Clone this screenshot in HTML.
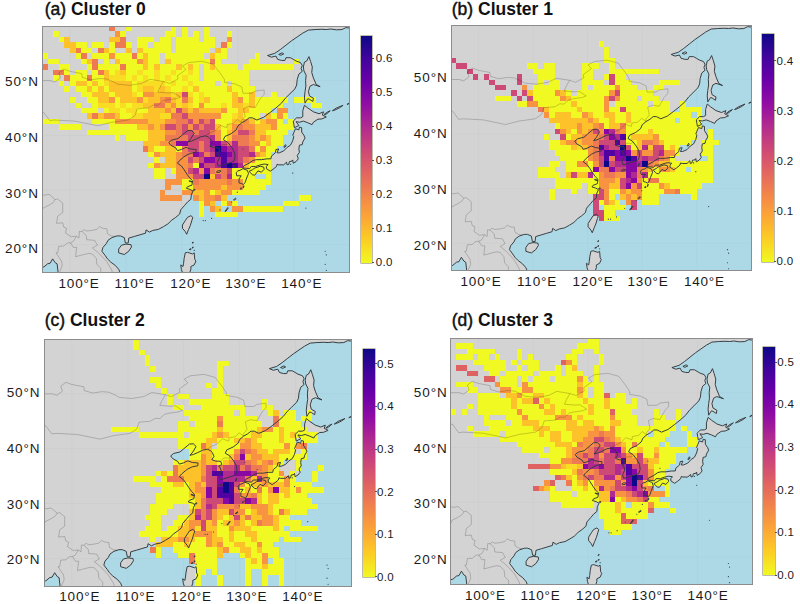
<!DOCTYPE html><html><head><meta charset="utf-8"><title>Clusters</title><style>
html,body{margin:0;padding:0;background:#fff}
body{width:800px;height:604px;position:relative;overflow:hidden;font-family:"Liberation Sans",sans-serif;color:#1a1a1a}
.map{position:absolute;overflow:hidden;background:#d3d3d3;box-sizing:border-box}
.map svg{position:absolute;left:0;top:0;display:block;filter:blur(0.4px)}
.frame{position:absolute;box-sizing:border-box;border:1px solid #8c8c8c;pointer-events:none}
.cb{position:absolute;box-shadow:0 0 0 0.6px rgba(60,50,0,0.55);background:linear-gradient(to top,#f0f921 0%,#fcce25 10%,#fca636 20%,#f2844b 30%,#e16462 40%,#cc4778 50%,#b12a90 60%,#8f0da4 70%,#6a00a8 80%,#41049d 90%,#0d0887 100%)}
.t{position:absolute;white-space:nowrap;line-height:1}
.ttl{font-size:17.5px;font-weight:bold;color:#111}
.ttl span{font-weight:normal;-webkit-text-stroke:0.45px #111}
.lon{font-size:13.5px;letter-spacing:0.8px;transform:translateX(-50%);margin-left:0.4px}
.lat{font-size:13.5px;letter-spacing:0.9px;text-align:right}
.cbl{font-size:11.5px;letter-spacing:0.3px}
.tick{position:absolute;height:1px;width:2px;background:#555}
</style></head><body>
<svg width="0" height="0" style="position:absolute"><defs><g id="sea"><path d="M55.20 0.40L54.30 0.30L53.60 0.65L52.60 0.70L51.60 0.55L50.80 0.65L50 0.60L48.80 0.65L47.60 0.75L46.60 1.30L45.60 2L44.60 2.70L43.60 3.50L42.60 4.30L41.60 5L40.30 5.40L41 5.70L41.80 5.50L42.10 6.10L42.80 6.30L43.40 6.30L43.60 5.80L44.40 5.80L44.90 6.10L45.40 6.40L46.20 6.70L46.50 7.20L46.30 7.80L46.50 8.30L45.90 8.80L45.60 9.80L45.50 10.80L45.20 11.50L44.30 12.40L43.50 13.20L42.80 14.10L41.80 15L40.80 15.80L39.60 16.70L38.40 17.20L37.60 16.80L37 16.80L36.40 17.30L35.70 17.70L35 18.30L34.70 19L33.80 19.70L32.70 20.20L32.40 20.80L33.20 21.30L33.90 22.20L34.40 23.10L34.50 24L34.30 24.70L33.70 25L33 25.20L32.40 25.40L31.50 25.65L31.30 25L31.70 24.10L31.50 23.40L31.20 23.20L31.80 22.90L31.60 22.30L30.70 22.25L30 22L30.40 21.40L30.10 20.70L29.70 20.30L29.20 20.10L28.40 20.25L27.50 20.70L26.70 21.05L26.10 21.20L26.60 20.60L27.20 19.60L26.70 19.10L26 19.15L25 20L24.30 20.60L23.20 20.85L22.65 21.30L23 21.80L23.90 22.30L24.20 22.80L24.90 22.60L25.70 22.20L26.50 22.50L27.55 22.60L27.50 23.10L26.50 23.30L25.70 23.70L25.30 24L24.60 24.60L24.20 25.10L24.90 25.60L25.40 26.30L25.90 27.10L26.40 27.80L26.90 28.30L26.80 29.10L26 29.40L25.80 29.70L26.50 29.90L27 30.20L26.70 30.80L26.60 31.70L26 32.20L25.50 32.80L24.80 33.60L24.60 34.40L23.90 35L23.20 35.50L22.50 36.20L21.70 36.70L20.80 37.20L19.80 37.40L19.20 37.70L18.60 37.30L18.50 37.90L17.50 38.20L16.50 38.50L15.50 38.80L15.40 39.70L14.90 39.70L14.70 38.70L14 38.40L13.40 38.40L12.50 38.70L11.80 39.20L11.50 39.80L10.90 40.50L10.70 41.20L11.30 42L11.70 42.60L12.30 43.20L13.10 43.80L13.70 44.50L13.95 45.10L55.5 45.5L55.5 -0.5Z" fill="#add8e6"/><path d="M-0.10 44.18L0.34 44.07L1 43.50L1.46 43.40L1.90 42.60L2.36 43.30L2.70 43.50L2.88 45.10L-0.10 45.10Z" fill="#add8e6"/><path d="M13.70 40.80L14.20 40.10L15 39.90L15.90 40L16 40.40L15.50 41.20L14.70 41.80L13.70 41.50ZM26 35L26.60 34.70L26.95 35L26.80 35.50L26.50 36.50L26.20 37.20L25.85 38.10L25.60 37.60L25.10 37L25.10 36.40L25.60 35.60ZM25.10 45.10L24.90 44.50L24.80 43.70L25.20 44L25.30 43.40L25.40 42.50L25.60 41.50L26 41.40L26.90 41.70L27.20 41.50L27.30 42.70L27.50 43L27.20 43.70L26.60 44L26.60 44.50L26.40 45.10ZM31.15 26.70L31.50 26.45L31.95 26.50L31.80 26.75L31.30 26.80ZM35.90 26.10L36.70 26.40L36.90 27L36.50 28L36.30 28.60L36 29L35.60 28.80L35.20 28.70L35.20 28L35.60 27.40L34.80 27.40L34.70 26.80L35 26.50L35.40 26.40ZM37 26.60L37.60 27.20L38 27.30L38.60 26.50L39.20 26.75L39.70 26.20L39.60 25.80L39 25.65L38 26L37.60 26.30ZM35.90 26L36 25.60L37 25.10L37.70 24.60L38.30 24.45L39.20 24.45L40.20 24.30L40.90 24.30L41 23.80L41.70 23.20L41.80 22.60L42.30 22.50L42 23.20L42.40 23.20L43.20 22.85L43.80 22.20L44.40 21.80L44.80 21L45 20.20L44.80 20L45 19.50L45.30 18.80L45.90 19L46 18.50L46.40 18.60L46.40 19.40L46.80 20L47 20.50L46.60 21.20L46.50 21.70L46 21.80L45.90 22.50L46 23.10L45.60 23.70L45.80 24.30L45.40 24.80L44.90 25.10L44.80 24.50L44.70 24.70L44.20 24.80L44.10 25.30L43.80 25.40L43.70 24.90L43.20 25.40L42.30 25.40L42 25.30L41.90 25.70L41.30 26.20L40.80 26.55L40.10 26.10L40.10 25.70L40.40 25.35L39.70 25.25L39 25.40L38.20 25.70L37.40 25.70L37.10 26.10L36.30 26ZM46.90 14.50L47.50 15L48.50 15.70L49.50 16.05L50.30 15.70L50.10 16.30L50.80 16.65L50 17L49.30 17.05L48.50 17.60L48.25 18.05L47.50 17.70L46.70 17.40L46 17.60L45.40 17.50L45.90 18.20L45.10 18.60L45 18L44.90 17.40L45.50 16.80L46.20 16.80L46.60 16.60L46.60 15.50ZM47.70 5.60L48 6.50L48.30 7.50L48.20 8.50L48.50 9.50L49 10.70L49.70 11.10L48.50 10.70L47.90 11L47.60 12L47.80 12.80L48.50 13.20L48.40 13.80L47.80 13.40L47.50 13.30L47 14.10L46.90 13L47 12L47.15 11L47.10 10L47.20 9L46.80 8.20L46.70 7.50L46.90 6.60L47.30 6.40ZM50.40 16.20L50.90 15.80L51.50 15.50L51.20 15.80L50.60 16.25ZM51.90 15.50L52.60 15L53.80 14.50L53.20 14.95L52.30 15.40ZM54.50 14.35L55.20 13.90L55.50 13.80L55 14.15ZM42.30 5.20L42.90 4.90L43.20 5.10L42.70 5.35ZM32.70 33.90L33.20 33.20L33.30 33.30L32.85 33.90ZM34.20 31.80L34.60 31.50L34.70 31.60L34.35 31.85ZM35.40 29.75L35.60 29.60L35.70 29.75L35.50 29.85ZM35.90 29.60L36.05 29.20L36.10 29.25L36 29.60ZM34.20 25.90L34.40 25.40L34.50 25.40L34.35 25.85ZM43.20 22.15L43.50 21.70L43.60 21.90L43.40 22.20ZM27 30L27.30 29.85L27.35 30L27.10 30.10ZM26.30 28.30L26.90 28.50L26.80 28.55L26.30 28.40ZM26.80 39.70L27 39.50L27 39.70ZM26.80 40.60L27 40.40L27 40.60ZM26.30 40.90L26.60 40.70L26.60 40.90Z" fill="#d3d3d3"/></g><g id="lines"><path d="M-0.10 10L1.50 10L2.30 10.25L3.30 9.50L3 8.60L3.90 7.90L5 8.30L7.10 8.70L7.20 9.40L8.70 9.85L10.40 9.60L11.60 9.70L12.90 10.30L13.50 10.65L15.70 10.85L17.80 10.50L19.30 9.75L21.70 10.15L22.80 10.50L24.30 9.70L24.20 9.10L25.70 8L25.10 7.30L26.20 6.70L28.60 6.45L30.60 7L31.90 8.70L32.60 9.80L32.60 10.30L34.50 10.60L35.70 11.15L35.90 12.30L37.50 12.30L38.10 11.90L39.70 11.70L39.70 12.50L39 13.30L38.10 14.90L36.90 14.70L36 15.10L36.30 16.50L35.60 17.40L35.70 17.70M21.70 10.15L21.10 11.20L20.70 12.10L21.80 12.20L22.60 12.25L23.50 12.20L24.75 13L24 13.30L22.50 13.50L21.60 13.70L20.70 14.50L19.90 14.45L19 15L17 15.15L16.60 16.40L15.40 17.20L13.30 17.50L12.50 17.60L10 18.25L5.90 17.40L2.20 17.20L1.40 17.30L0.30 15.80L-0.10 15.70M35.70 17.70L34.90 17.10L34.20 17.80L33.10 18L33 18.60L31.90 18.20L31 19.10L29.90 19.60L29.20 20.10M31.70 22.20L32.10 21.70L33.10 21.70L33.40 21.40M13.05 38.50L12.40 38.40L11.70 38L11.60 37.10L10.80 37L10.30 36.70L9.80 37.20L8.90 37.40L8 37.50L7.50 37.25L7.15 37.60M7.15 37.60L6.70 37.55L6.60 38.80L6.15 38.45L5.20 38.55L4.20 37.85L4.40 37L3.90 36.80L3.70 36L2.60 36.10L2.80 34.80L3.70 34.10L3.70 32.40L2.80 31.65L2.35 31.75L1.30 30.80L0.40 30.95L-0.10 30.80M7.15 37.60L7.90 38.30L8 39.10L9.40 39.20L9.90 40.10L9 40.60L10.10 41.50L11.50 43L12.40 44.50L12.60 45.10M6.15 38.45L5.60 39.40L5.10 39.65L4.50 39.70L3.90 40.25L3 40.30L2.80 41.50L2.50 41.50L3.50 43L3.60 43.90L3.20 44.80L3.20 45.10M5.10 39.65L5.60 40.50L6.20 40.50L6 42.20L7.10 41.90L8.30 41.60L9 41.70L9.70 42.50L9.80 43.60L10.50 44.30L10.50 45.10M-0.10 34L0.20 33.30L1.20 32.80L2 32.30L2.35 31.75" fill="none" stroke="#000" stroke-opacity="0.27" stroke-width="0.13" stroke-linejoin="round"/><path d="M55.20 0.40L54.30 0.30L53.60 0.65L52.60 0.70L51.60 0.55L50.80 0.65L50 0.60L48.80 0.65L47.60 0.75L46.60 1.30L45.60 2L44.60 2.70L43.60 3.50L42.60 4.30L41.60 5L40.30 5.40L41 5.70L41.80 5.50L42.10 6.10L42.80 6.30L43.40 6.30L43.60 5.80L44.40 5.80L44.90 6.10L45.40 6.40L46.20 6.70L46.50 7.20L46.30 7.80L46.50 8.30L45.90 8.80L45.60 9.80L45.50 10.80L45.20 11.50L44.30 12.40L43.50 13.20L42.80 14.10L41.80 15L40.80 15.80L39.60 16.70L38.40 17.20L37.60 16.80L37 16.80L36.40 17.30L35.70 17.70L35 18.30L34.70 19L33.80 19.70L32.70 20.20L32.40 20.80L33.20 21.30L33.90 22.20L34.40 23.10L34.50 24L34.30 24.70L33.70 25L33 25.20L32.40 25.40L31.50 25.65L31.30 25L31.70 24.10L31.50 23.40L31.20 23.20L31.80 22.90L31.60 22.30L30.70 22.25L30 22L30.40 21.40L30.10 20.70L29.70 20.30L29.20 20.10L28.40 20.25L27.50 20.70L26.70 21.05L26.10 21.20L26.60 20.60L27.20 19.60L26.70 19.10L26 19.15L25 20L24.30 20.60L23.20 20.85L22.65 21.30L23 21.80L23.90 22.30L24.20 22.80L24.90 22.60L25.70 22.20L26.50 22.50L27.55 22.60L27.50 23.10L26.50 23.30L25.70 23.70L25.30 24L24.60 24.60L24.20 25.10L24.90 25.60L25.40 26.30L25.90 27.10L26.40 27.80L26.90 28.30L26.80 29.10L26 29.40L25.80 29.70L26.50 29.90L27 30.20L26.70 30.80L26.60 31.70L26 32.20L25.50 32.80L24.80 33.60L24.60 34.40L23.90 35L23.20 35.50L22.50 36.20L21.70 36.70L20.80 37.20L19.80 37.40L19.20 37.70L18.60 37.30L18.50 37.90L17.50 38.20L16.50 38.50L15.50 38.80L15.40 39.70L14.90 39.70L14.70 38.70L14 38.40L13.40 38.40L12.50 38.70L11.80 39.20L11.50 39.80L10.90 40.50L10.70 41.20L11.30 42L11.70 42.60L12.30 43.20L13.10 43.80L13.70 44.50L13.95 45.10M-0.10 44.18L0.34 44.07L1 43.50L1.46 43.40L1.90 42.60L2.36 43.30L2.70 43.50L2.88 45.10M13.70 40.80L14.20 40.10L15 39.90L15.90 40L16 40.40L15.50 41.20L14.70 41.80L13.70 41.50ZM26 35L26.60 34.70L26.95 35L26.80 35.50L26.50 36.50L26.20 37.20L25.85 38.10L25.60 37.60L25.10 37L25.10 36.40L25.60 35.60ZM25.10 45.10L24.90 44.50L24.80 43.70L25.20 44L25.30 43.40L25.40 42.50L25.60 41.50L26 41.40L26.90 41.70L27.20 41.50L27.30 42.70L27.50 43L27.20 43.70L26.60 44L26.60 44.50L26.40 45.10ZM31.15 26.70L31.50 26.45L31.95 26.50L31.80 26.75L31.30 26.80ZM35.90 26.10L36.70 26.40L36.90 27L36.50 28L36.30 28.60L36 29L35.60 28.80L35.20 28.70L35.20 28L35.60 27.40L34.80 27.40L34.70 26.80L35 26.50L35.40 26.40ZM37 26.60L37.60 27.20L38 27.30L38.60 26.50L39.20 26.75L39.70 26.20L39.60 25.80L39 25.65L38 26L37.60 26.30ZM35.90 26L36 25.60L37 25.10L37.70 24.60L38.30 24.45L39.20 24.45L40.20 24.30L40.90 24.30L41 23.80L41.70 23.20L41.80 22.60L42.30 22.50L42 23.20L42.40 23.20L43.20 22.85L43.80 22.20L44.40 21.80L44.80 21L45 20.20L44.80 20L45 19.50L45.30 18.80L45.90 19L46 18.50L46.40 18.60L46.40 19.40L46.80 20L47 20.50L46.60 21.20L46.50 21.70L46 21.80L45.90 22.50L46 23.10L45.60 23.70L45.80 24.30L45.40 24.80L44.90 25.10L44.80 24.50L44.70 24.70L44.20 24.80L44.10 25.30L43.80 25.40L43.70 24.90L43.20 25.40L42.30 25.40L42 25.30L41.90 25.70L41.30 26.20L40.80 26.55L40.10 26.10L40.10 25.70L40.40 25.35L39.70 25.25L39 25.40L38.20 25.70L37.40 25.70L37.10 26.10L36.30 26ZM46.90 14.50L47.50 15L48.50 15.70L49.50 16.05L50.30 15.70L50.10 16.30L50.80 16.65L50 17L49.30 17.05L48.50 17.60L48.25 18.05L47.50 17.70L46.70 17.40L46 17.60L45.40 17.50L45.90 18.20L45.10 18.60L45 18L44.90 17.40L45.50 16.80L46.20 16.80L46.60 16.60L46.60 15.50ZM47.70 5.60L48 6.50L48.30 7.50L48.20 8.50L48.50 9.50L49 10.70L49.70 11.10L48.50 10.70L47.90 11L47.60 12L47.80 12.80L48.50 13.20L48.40 13.80L47.80 13.40L47.50 13.30L47 14.10L46.90 13L47 12L47.15 11L47.10 10L47.20 9L46.80 8.20L46.70 7.50L46.90 6.60L47.30 6.40ZM50.40 16.20L50.90 15.80L51.50 15.50L51.20 15.80L50.60 16.25ZM51.90 15.50L52.60 15L53.80 14.50L53.20 14.95L52.30 15.40ZM54.50 14.35L55.20 13.90L55.50 13.80L55 14.15ZM42.30 5.20L42.90 4.90L43.20 5.10L42.70 5.35ZM32.70 33.90L33.20 33.20L33.30 33.30L32.85 33.90ZM34.20 31.80L34.60 31.50L34.70 31.60L34.35 31.85ZM35.40 29.75L35.60 29.60L35.70 29.75L35.50 29.85ZM35.90 29.60L36.05 29.20L36.10 29.25L36 29.60ZM34.20 25.90L34.40 25.40L34.50 25.40L34.35 25.85ZM43.20 22.15L43.50 21.70L43.60 21.90L43.40 22.20ZM27 30L27.30 29.85L27.35 30L27.10 30.10ZM26.30 28.30L26.90 28.50L26.80 28.55L26.30 28.40ZM26.80 39.70L27 39.50L27 39.70ZM26.80 40.60L27 40.40L27 40.60ZM26.30 40.90L26.60 40.70L26.60 40.90Z" fill="none" stroke="#33393d" stroke-width="0.175" stroke-linejoin="round"/><path d="M47.15 33.30h.01M50.60 41.20h.01M50.80 41.85h.01M50.60 43.60h.01M50.80 44.70h.01M29.20 35.60h.01M28.80 35.60h.01M30.30 35.20h.01M31.80 33.65h.01M33.90 32.20h.01M34.90 30.40h.01M44.80 26.90h.01M44.40 25.30h.01M38.10 23.80h.01M35.90 22.50h.01M27.20 41.05h.01" fill="none" stroke="#3a4a55" stroke-width="0.22" stroke-linecap="round"/></g><g id="grid" stroke="#000" stroke-opacity="0.025" stroke-width="0.18"><path d="M5 0V45M15 0V45M25 0V45M35 0V45M45 0V45M0 10H55M0 20H55M0 30H55M0 40H55"/></g><linearGradient id="pl" x1="0" y1="1" x2="0" y2="0"><stop offset="0%" stop-color="#f0f921"/><stop offset="10%" stop-color="#fcce25"/><stop offset="20%" stop-color="#fca636"/><stop offset="30%" stop-color="#f2844b"/><stop offset="40%" stop-color="#e16462"/><stop offset="50%" stop-color="#cc4778"/><stop offset="60%" stop-color="#b12a90"/><stop offset="70%" stop-color="#8f0da4"/><stop offset="80%" stop-color="#6a00a8"/><stop offset="90%" stop-color="#41049d"/><stop offset="100%" stop-color="#0d0887"/></linearGradient></defs></svg>
<div class="map" style="left:42.1px;top:26.0px;width:307.8px;height:246.0px">
<svg width="307.8" height="246.0" viewBox="0 0 55 45" preserveAspectRatio="none">
<use href="#sea"/><use href="#grid"/>
<g shape-rendering="crispEdges"><path fill="#f0f921" d="M15 0h1v1h-1zM23 0h1v1h-1zM25 0h1v1h-1zM29 0h1v1h-1zM2 1h1v1h-1zM14 1h1v1h-1zM22 1h2v1h-2zM25 1h1v1h-1zM27 1h1v1h-1zM29 1h1v1h-1zM33 1h1v1h-1zM3 2h1v1h-1zM17 2h3v1h-3zM21 2h2v1h-2zM24 2h4v1h-4zM29 2h2v1h-2zM6 3h2v1h-2zM9 3h2v1h-2zM12 3h1v1h-1zM15 3h1v1h-1zM17 3h2v1h-2zM20 3h3v1h-3zM24 3h7v1h-7zM33 3h1v1h-1zM7 4h2v1h-2zM12 4h1v1h-1zM18 4h5v1h-5zM24 4h6v1h-6zM32 4h1v1h-1zM0 5h1v1h-1zM6 5h1v1h-1zM9 5h3v1h-3zM13 5h3v1h-3zM17 5h1v1h-1zM19 5h2v1h-2zM22 5h7v1h-7zM31 5h2v1h-2zM38 5h1v1h-1zM1 6h2v1h-2zM7 6h1v1h-1zM11 6h1v1h-1zM14 6h3v1h-3zM19 6h2v1h-2zM23 6h7v1h-7zM31 6h1v1h-1zM37 6h2v1h-2zM45 6h1v1h-1zM3 7h2v1h-2zM8 7h1v1h-1zM10 7h4v1h-4zM15 7h3v1h-3zM19 7h1v1h-1zM21 7h3v1h-3zM25 7h1v1h-1zM27 7h1v1h-1zM29 7h1v1h-1zM31 7h4v1h-4zM36 7h9v1h-9zM4 8h1v1h-1zM6 8h2v1h-2zM9 8h1v1h-1zM12 8h1v1h-1zM15 8h2v1h-2zM18 8h2v1h-2zM21 8h2v1h-2zM24 8h2v1h-2zM27 8h1v1h-1zM29 8h8v1h-8zM2 9h1v1h-1zM5 9h3v1h-3zM9 9h2v1h-2zM15 9h1v1h-1zM17 9h1v1h-1zM19 9h1v1h-1zM21 9h1v1h-1zM23 9h2v1h-2zM26 9h2v1h-2zM29 9h8v1h-8zM3 10h1v1h-1zM5 10h1v1h-1zM8 10h1v1h-1zM10 10h1v1h-1zM16 10h1v1h-1zM22 10h1v1h-1zM24 10h2v1h-2zM27 10h4v1h-4zM32 10h1v1h-1zM34 10h3v1h-3zM4 11h1v1h-1zM6 11h2v1h-2zM9 11h1v1h-1zM11 11h1v1h-1zM16 11h1v1h-1zM23 11h2v1h-2zM26 11h1v1h-1zM28 11h5v1h-5zM34 11h4v1h-4zM7 12h2v1h-2zM12 12h1v1h-1zM17 12h1v1h-1zM27 12h1v1h-1zM29 12h5v1h-5zM35 12h2v1h-2zM41 12h1v1h-1zM5 13h1v1h-1zM8 13h2v1h-2zM13 13h1v1h-1zM27 13h1v1h-1zM30 13h4v1h-4zM36 13h1v1h-1zM38 13h6v1h-6zM45 13h4v1h-4zM6 14h1v1h-1zM9 14h1v1h-1zM13 14h1v1h-1zM15 14h1v1h-1zM27 14h1v1h-1zM29 14h3v1h-3zM33 14h1v1h-1zM38 14h5v1h-5zM48 14h2v1h-2zM7 15h3v1h-3zM11 15h1v1h-1zM14 15h1v1h-1zM17 15h2v1h-2zM33 15h2v1h-2zM37 15h4v1h-4zM14 16h2v1h-2zM32 16h2v1h-2zM36 16h3v1h-3zM41 16h1v1h-1zM43 16h1v1h-1zM0 17h3v1h-3zM9 17h4v1h-4zM31 17h3v1h-3zM38 17h1v1h-1zM42 17h1v1h-1zM44 17h1v1h-1zM3 18h4v1h-4zM12 18h5v1h-5zM32 18h1v1h-1zM42 18h3v1h-3zM8 19h11v1h-11zM32 19h1v1h-1zM40 19h4v1h-4zM13 20h1v1h-1zM15 20h4v1h-4zM32 20h1v1h-1zM41 20h2v1h-2zM39 21h1v1h-1zM41 21h2v1h-2zM20 22h2v1h-2zM24 22h1v1h-1zM38 22h1v1h-1zM40 22h2v1h-2zM19 23h1v1h-1zM40 23h1v1h-1zM20 24h1v1h-1zM38 24h3v1h-3zM19 25h1v1h-1zM27 25h1v1h-1zM37 25h4v1h-4zM20 26h2v1h-2zM23 26h1v1h-1zM34 26h7v1h-7zM20 27h2v1h-2zM34 27h4v1h-4zM40 27h1v1h-1zM25 28h2v1h-2zM36 28h5v1h-5zM25 29h2v1h-2zM36 29h4v1h-4zM30 30h1v1h-1zM34 30h5v1h-5zM46 31h2v1h-2zM28 32h1v1h-1zM32 32h1v1h-1zM34 32h1v1h-1zM43 32h3v1h-3zM28 33h1v1h-1zM36 33h7v1h-7zM28 34h1v1h-1zM31 34h4v1h-4z"/><path fill="#fdc229" d="M4 2h1v1h-1zM12 2h2v1h-2zM4 3h2v1h-2zM5 4h1v1h-1zM11 4h1v1h-1zM15 4h1v1h-1zM17 4h1v1h-1zM31 4h1v1h-1zM18 5h1v1h-1zM30 5h1v1h-1zM8 6h1v1h-1zM13 6h1v1h-1zM18 6h1v1h-1zM22 6h1v1h-1zM18 7h1v1h-1zM20 7h1v1h-1zM24 7h1v1h-1zM26 7h1v1h-1zM30 7h1v1h-1zM11 8h1v1h-1zM14 8h1v1h-1zM11 9h1v1h-1zM6 10h2v1h-2zM9 10h1v1h-1zM12 10h4v1h-4zM8 11h1v1h-1zM10 11h1v1h-1zM12 11h4v1h-4zM18 11h2v1h-2zM21 11h1v1h-1zM27 11h1v1h-1zM33 11h1v1h-1zM9 12h3v1h-3zM13 12h3v1h-3zM20 12h3v1h-3zM24 12h1v1h-1zM34 12h1v1h-1zM37 12h1v1h-1zM10 13h2v1h-2zM14 13h3v1h-3zM19 13h2v1h-2zM23 13h1v1h-1zM26 13h1v1h-1zM29 13h1v1h-1zM34 13h1v1h-1zM37 13h1v1h-1zM18 14h2v1h-2zM22 14h1v1h-1zM25 14h1v1h-1zM34 14h2v1h-2zM37 14h1v1h-1zM19 15h3v1h-3zM23 15h1v1h-1zM26 15h1v1h-1zM28 15h4v1h-4zM35 15h2v1h-2zM8 16h1v1h-1zM10 16h1v1h-1zM13 16h1v1h-1zM18 16h3v1h-3zM35 16h1v1h-1zM40 16h1v1h-1zM19 17h3v1h-3zM34 17h2v1h-2zM37 17h1v1h-1zM39 17h1v1h-1zM17 18h2v1h-2zM20 18h1v1h-1zM31 18h1v1h-1zM38 18h3v1h-3zM19 19h3v1h-3zM33 19h1v1h-1zM38 19h2v1h-2zM19 20h3v1h-3zM33 20h1v1h-1zM38 20h1v1h-1zM40 20h1v1h-1zM18 21h3v1h-3zM40 21h1v1h-1zM19 22h1v1h-1zM22 22h2v1h-2zM21 23h3v1h-3zM39 23h1v1h-1zM22 24h2v1h-2zM21 25h3v1h-3zM36 25h1v1h-1zM30 27h1v1h-1zM32 29h1v1h-1zM27 30h2v1h-2zM31 30h1v1h-1zM28 31h1v1h-1zM32 31h1v1h-1zM30 32h1v1h-1zM31 33h1v1h-1z"/><path fill="#f89441" d="M13 1h1v1h-1zM33 2h1v1h-1zM12 5h1v1h-1zM17 6h1v1h-1zM18 12h2v1h-2zM12 13h1v1h-1zM17 13h1v1h-1zM21 13h1v1h-1zM35 13h1v1h-1zM23 14h1v1h-1zM28 14h1v1h-1zM22 15h1v1h-1zM25 15h1v1h-1zM27 15h1v1h-1zM32 15h1v1h-1zM42 15h2v1h-2zM11 16h2v1h-2zM26 16h6v1h-6zM42 16h1v1h-1zM13 17h6v1h-6zM22 17h2v1h-2zM27 17h1v1h-1zM36 17h1v1h-1zM40 17h2v1h-2zM19 18h1v1h-1zM21 18h1v1h-1zM26 18h1v1h-1zM34 18h1v1h-1zM36 18h2v1h-2zM41 18h1v1h-1zM22 19h2v1h-2zM31 19h1v1h-1zM34 19h1v1h-1zM31 20h1v1h-1zM37 20h1v1h-1zM39 20h1v1h-1zM21 21h2v1h-2zM37 21h2v1h-2zM39 22h1v1h-1zM20 23h1v1h-1zM24 23h1v1h-1zM38 23h1v1h-1zM24 24h2v1h-2zM37 24h1v1h-1zM20 25h1v1h-1zM24 25h2v1h-2zM24 26h2v1h-2zM28 26h1v1h-1zM31 26h1v1h-1zM24 27h3v1h-3zM22 28h3v1h-3zM28 28h5v1h-5zM34 28h2v1h-2zM22 29h1v1h-1zM27 29h5v1h-5zM33 29h3v1h-3zM21 30h1v1h-1zM25 30h2v1h-2zM29 30h1v1h-1zM32 30h2v1h-2zM21 31h4v1h-4zM27 31h1v1h-1zM29 31h2v1h-2zM29 32h1v1h-1zM33 32h1v1h-1zM30 33h1v1h-1zM34 33h2v1h-2z"/><path fill="#ed7a52" d="M12 0h1v1h-1zM14 2h1v1h-1zM13 3h2v1h-2zM32 3h1v1h-1zM6 4h1v1h-1zM10 4h1v1h-1zM7 5h1v1h-1zM16 5h1v1h-1zM9 6h1v1h-1zM30 6h1v1h-1zM0 7h1v1h-1zM9 7h1v1h-1zM14 7h1v1h-1zM2 8h2v1h-2zM10 8h1v1h-1zM4 9h1v1h-1zM8 9h1v1h-1zM22 13h1v1h-1zM25 13h1v1h-1zM20 14h2v1h-2zM9 16h1v1h-1zM23 16h2v1h-2zM24 17h2v1h-2zM29 17h1v1h-1zM24 18h1v1h-1zM28 18h1v1h-1zM35 18h1v1h-1zM24 19h1v1h-1zM27 19h1v1h-1zM30 19h1v1h-1zM37 19h1v1h-1zM22 20h4v1h-4zM34 20h3v1h-3zM23 21h1v1h-1zM28 21h1v1h-1zM33 21h1v1h-1zM35 21h2v1h-2zM18 22h1v1h-1zM25 22h1v1h-1zM28 22h1v1h-1zM37 22h1v1h-1zM25 23h2v1h-2zM29 23h1v1h-1zM27 24h1v1h-1zM36 24h1v1h-1zM26 25h1v1h-1zM30 26h1v1h-1zM32 26h1v1h-1zM32 27h1v1h-1zM27 28h1v1h-1zM33 28h1v1h-1zM31 31h1v1h-1z"/><path fill="#cd4a76" d="M25 12h1v1h-1zM24 15h1v1h-1zM25 16h1v1h-1zM26 17h1v1h-1zM28 17h1v1h-1zM30 17h1v1h-1zM22 18h2v1h-2zM25 18h1v1h-1zM27 18h1v1h-1zM29 18h2v1h-2zM25 19h2v1h-2zM28 19h2v1h-2zM35 19h2v1h-2zM26 20h4v1h-4zM26 21h2v1h-2zM29 21h1v1h-1zM32 21h1v1h-1zM26 22h2v1h-2zM29 22h1v1h-1zM35 22h2v1h-2zM30 23h1v1h-1zM35 23h2v1h-2zM26 24h1v1h-1zM28 24h1v1h-1zM35 24h1v1h-1zM29 25h2v1h-2zM26 26h1v1h-1zM33 26h1v1h-1zM27 27h2v1h-2zM31 27h1v1h-1z"/><path fill="#b12a90" d="M30 20h1v1h-1zM34 21h1v1h-1zM30 22h1v1h-1zM33 22h2v1h-2zM28 23h1v1h-1zM34 23h1v1h-1zM37 23h1v1h-1zM31 24h1v1h-1zM33 24h2v1h-2zM31 25h1v1h-1zM35 25h1v1h-1zM27 26h1v1h-1zM33 27h1v1h-1z"/><path fill="#8808a6" d="M24 21h2v1h-2zM30 21h2v1h-2zM32 22h1v1h-1zM27 23h1v1h-1zM33 23h1v1h-1zM29 24h2v1h-2zM28 25h1v1h-1zM29 26h1v1h-1z"/><path fill="#5102a3" d="M31 23h2v1h-2zM32 24h1v1h-1zM32 25h1v1h-1zM34 25h1v1h-1z"/><path fill="#0d0887" d="M31 22h1v1h-1zM33 25h1v1h-1zM29 27h1v1h-1z"/><path fill="#f9dc24" d="M13 8h1v1h-1zM17 8h1v1h-1zM20 8h1v1h-1zM23 8h1v1h-1zM26 8h1v1h-1zM12 9h3v1h-3zM16 9h1v1h-1zM18 9h1v1h-1zM20 9h1v1h-1zM22 9h1v1h-1zM25 9h1v1h-1zM11 10h1v1h-1zM17 10h5v1h-5zM23 10h1v1h-1zM26 10h1v1h-1zM17 11h1v1h-1zM20 11h1v1h-1zM22 11h1v1h-1zM25 11h1v1h-1zM16 12h1v1h-1zM23 12h1v1h-1zM26 12h1v1h-1zM28 12h1v1h-1zM18 13h1v1h-1zM24 13h1v1h-1zM28 13h1v1h-1zM10 14h3v1h-3zM14 14h1v1h-1zM16 14h2v1h-2zM24 14h1v1h-1zM26 14h1v1h-1zM32 14h1v1h-1zM36 14h1v1h-1zM12 15h2v1h-2zM15 15h2v1h-2zM16 16h2v1h-2zM21 16h2v1h-2zM34 16h1v1h-1zM33 18h1v1h-1z"/></g>
<use href="#lines"/>
</svg></div>
<div class="frame" style="left:41.6px;top:25.5px;width:308.8px;height:247.0px"></div>
<div class="t ttl" style="left:44.7px;top:0.7px"><span>(a)</span> Cluster 0</div>
<div class="cb" style="left:360.6px;top:35.5px;width:11.7px;height:227.9px"></div>
<div class="tick" style="left:372.3px;top:262.4px"></div>
<div class="t cbl" style="left:375.7px;top:257.2px">0.0</div>
<div class="tick" style="left:372.3px;top:228.3px"></div>
<div class="t cbl" style="left:375.7px;top:223.1px">0.1</div>
<div class="tick" style="left:372.3px;top:194.3px"></div>
<div class="t cbl" style="left:375.7px;top:189.1px">0.2</div>
<div class="tick" style="left:372.3px;top:160.2px"></div>
<div class="t cbl" style="left:375.7px;top:155.0px">0.3</div>
<div class="tick" style="left:372.3px;top:126.1px"></div>
<div class="t cbl" style="left:375.7px;top:120.9px">0.4</div>
<div class="tick" style="left:372.3px;top:92.0px"></div>
<div class="t cbl" style="left:375.7px;top:86.8px">0.5</div>
<div class="tick" style="left:372.3px;top:58.0px"></div>
<div class="t cbl" style="left:375.7px;top:52.8px">0.6</div>
<div class="t lon" style="left:78.6px;top:277.2px">100°E</div>
<div class="t lon" style="left:134.2px;top:277.2px">110°E</div>
<div class="t lon" style="left:190.4px;top:277.2px">120°E</div>
<div class="t lon" style="left:245.4px;top:277.2px">130°E</div>
<div class="t lon" style="left:301.4px;top:277.2px">140°E</div>
<div class="t lat" style="left:-21.2px;width:60px;top:75.2px">50°N</div>
<div class="t lat" style="left:-21.2px;width:60px;top:130.8px">40°N</div>
<div class="t lat" style="left:-21.2px;width:60px;top:186.5px">30°N</div>
<div class="t lat" style="left:-21.2px;width:60px;top:242.1px">20°N</div>
<div class="map" style="left:451.2px;top:25.3px;width:300.5px;height:245.4px">
<svg width="300.5" height="245.4" viewBox="0 0 55 45" preserveAspectRatio="none">
<use href="#sea"/><use href="#grid"/>
<g shape-rendering="crispEdges"><path fill="#f0f921" d="M27 3h1v1h-1zM28 4h1v1h-1zM28 5h1v1h-1zM28 6h2v1h-2zM14 7h2v1h-2zM17 7h2v1h-2zM24 7h3v1h-3zM29 7h1v1h-1zM15 8h4v1h-4zM24 8h2v1h-2zM29 8h9v1h-9zM16 9h3v1h-3zM24 9h2v1h-2zM28 9h1v1h-1zM30 9h2v1h-2zM16 10h1v1h-1zM18 10h2v1h-2zM24 10h4v1h-4zM30 10h3v1h-3zM38 10h4v1h-4zM15 11h5v1h-5zM24 11h1v1h-1zM26 11h4v1h-4zM31 11h3v1h-3zM37 11h2v1h-2zM15 12h4v1h-4zM21 12h1v1h-1zM23 12h6v1h-6zM31 12h6v1h-6zM8 13h3v1h-3zM15 13h5v1h-5zM22 13h6v1h-6zM31 13h3v1h-3zM35 13h3v1h-3zM12 14h2v1h-2zM16 14h6v1h-6zM23 14h5v1h-5zM30 14h6v1h-6zM37 14h3v1h-3zM42 14h1v1h-1zM18 15h5v1h-5zM24 15h4v1h-4zM29 15h2v1h-2zM32 15h8v1h-8zM42 15h4v1h-4zM18 16h1v1h-1zM22 16h2v1h-2zM26 16h2v1h-2zM30 16h2v1h-2zM33 16h11v1h-11zM45 16h1v1h-1zM27 17h2v1h-2zM30 17h2v1h-2zM33 17h8v1h-8zM42 17h4v1h-4zM19 18h1v1h-1zM28 18h1v1h-1zM32 18h14v1h-14zM22 19h1v1h-1zM32 19h4v1h-4zM37 19h8v1h-8zM47 19h1v1h-1zM17 20h1v1h-1zM21 20h1v1h-1zM32 20h1v1h-1zM38 20h7v1h-7zM47 20h1v1h-1zM18 21h2v1h-2zM32 21h2v1h-2zM39 21h5v1h-5zM46 21h3v1h-3zM18 22h4v1h-4zM33 22h1v1h-1zM39 22h1v1h-1zM41 22h1v1h-1zM46 22h2v1h-2zM19 23h6v1h-6zM41 23h1v1h-1zM46 23h2v1h-2zM20 24h5v1h-5zM40 24h1v1h-1zM47 24h1v1h-1zM18 25h2v1h-2zM21 25h2v1h-2zM25 25h1v1h-1zM40 25h8v1h-8zM16 26h3v1h-3zM21 26h5v1h-5zM37 26h1v1h-1zM41 26h2v1h-2zM44 26h4v1h-4zM16 27h4v1h-4zM26 27h1v1h-1zM36 27h12v1h-12zM19 28h8v1h-8zM35 28h1v1h-1zM38 28h10v1h-10zM19 29h5v1h-5zM25 29h2v1h-2zM35 29h3v1h-3zM40 29h6v1h-6zM18 30h1v1h-1zM22 30h1v1h-1zM25 30h2v1h-2zM29 30h2v1h-2zM35 30h4v1h-4zM42 30h3v1h-3zM18 31h1v1h-1zM29 31h1v1h-1zM35 31h3v1h-3zM44 31h1v1h-1zM27 32h1v1h-1zM30 32h1v1h-1zM35 32h3v1h-3zM28 33h4v1h-4zM28 34h2v1h-2zM28 35h3v1h-3z"/><path fill="#fdc229" d="M14 12h1v1h-1zM20 12h1v1h-1zM21 13h1v1h-1zM22 14h1v1h-1zM17 15h1v1h-1zM23 15h1v1h-1zM19 16h3v1h-3zM25 16h1v1h-1zM28 16h2v1h-2zM32 16h1v1h-1zM18 17h7v1h-7zM26 17h1v1h-1zM29 17h1v1h-1zM32 17h1v1h-1zM20 18h3v1h-3zM24 18h2v1h-2zM29 18h2v1h-2zM21 19h1v1h-1zM24 19h1v1h-1zM36 19h1v1h-1zM22 20h2v1h-2zM33 20h4v1h-4zM20 21h1v1h-1zM23 21h1v1h-1zM34 21h1v1h-1zM38 21h1v1h-1zM22 22h1v1h-1zM24 22h1v1h-1zM34 22h1v1h-1zM36 22h1v1h-1zM40 22h1v1h-1zM38 25h2v1h-2zM36 26h1v1h-1zM40 26h1v1h-1zM21 27h1v1h-1zM23 27h2v1h-2zM30 28h1v1h-1zM29 29h2v1h-2zM39 29h1v1h-1zM32 30h1v1h-1zM31 31h1v1h-1zM33 31h1v1h-1zM29 32h1v1h-1z"/><path fill="#f89441" d="M13 11h1v1h-1zM30 11h1v1h-1zM19 12h1v1h-1zM29 12h1v1h-1zM20 13h1v1h-1zM28 13h1v1h-1zM30 13h1v1h-1zM14 14h2v1h-2zM28 14h1v1h-1zM28 15h1v1h-1zM17 16h1v1h-1zM24 16h1v1h-1zM25 17h1v1h-1zM23 18h1v1h-1zM26 18h1v1h-1zM20 19h1v1h-1zM23 19h1v1h-1zM25 19h1v1h-1zM27 19h1v1h-1zM31 19h1v1h-1zM24 20h3v1h-3zM37 20h1v1h-1zM21 21h2v1h-2zM24 21h2v1h-2zM37 21h1v1h-1zM25 22h1v1h-1zM25 23h1v1h-1zM33 23h1v1h-1zM35 23h2v1h-2zM39 23h2v1h-2zM25 24h1v1h-1zM39 24h1v1h-1zM23 25h2v1h-2zM26 25h1v1h-1zM37 25h1v1h-1zM35 26h1v1h-1zM38 26h2v1h-2zM27 27h1v1h-1zM30 27h2v1h-2zM27 28h3v1h-3zM34 28h1v1h-1zM27 29h2v1h-2zM33 29h1v1h-1zM38 29h1v1h-1zM28 30h1v1h-1zM31 30h1v1h-1zM33 30h2v1h-2zM39 30h2v1h-2zM28 31h1v1h-1zM32 31h1v1h-1zM34 31h1v1h-1zM28 32h1v1h-1zM32 32h1v1h-1z"/><path fill="#ed7a52" d="M16 15h1v1h-1zM27 18h1v1h-1zM31 18h1v1h-1zM30 19h1v1h-1zM27 20h1v1h-1zM26 21h1v1h-1zM35 21h2v1h-2zM26 22h1v1h-1zM26 23h1v1h-1zM26 24h1v1h-1zM29 24h1v1h-1zM38 24h1v1h-1zM36 25h1v1h-1zM27 26h2v1h-2zM34 26h1v1h-1zM28 27h2v1h-2zM34 27h1v1h-1zM36 28h2v1h-2zM41 30h1v1h-1z"/><path fill="#cd4a76" d="M0 6h1v1h-1zM1 7h2v1h-2zM3 8h1v1h-1zM4 9h1v1h-1zM6 9h1v1h-1zM12 9h1v1h-1zM29 9h1v1h-1zM7 10h1v1h-1zM12 10h1v1h-1zM29 10h1v1h-1zM8 11h2v1h-2zM11 12h1v1h-1zM13 12h1v1h-1zM30 12h1v1h-1zM12 13h1v1h-1zM14 13h1v1h-1zM29 13h1v1h-1zM31 15h1v1h-1zM19 19h1v1h-1zM26 19h1v1h-1zM20 20h1v1h-1zM28 20h1v1h-1zM27 21h3v1h-3zM31 21h1v1h-1zM29 22h2v1h-2zM32 22h1v1h-1zM37 22h2v1h-2zM34 23h1v1h-1zM37 23h1v1h-1zM27 24h1v1h-1zM34 24h1v1h-1zM36 24h2v1h-2zM27 25h1v1h-1zM29 25h1v1h-1zM30 26h2v1h-2zM22 27h1v1h-1zM31 28h1v1h-1zM31 29h1v1h-1zM34 29h1v1h-1zM27 30h1v1h-1zM26 31h2v1h-2zM26 32h1v1h-1zM33 32h1v1h-1zM26 33h1v1h-1zM33 33h1v1h-1zM26 34h2v1h-2zM27 35h1v1h-1z"/><path fill="#b12a90" d="M29 19h1v1h-1zM30 20h1v1h-1zM28 22h1v1h-1zM35 22h1v1h-1zM27 23h1v1h-1zM38 23h1v1h-1zM35 24h1v1h-1zM30 25h2v1h-2zM34 25h1v1h-1zM25 27h1v1h-1zM33 27h1v1h-1zM35 27h1v1h-1zM32 28h1v1h-1z"/><path fill="#8808a6" d="M28 19h1v1h-1zM29 20h1v1h-1zM30 23h1v1h-1zM32 23h1v1h-1zM30 24h2v1h-2zM32 25h2v1h-2zM26 26h1v1h-1zM29 26h1v1h-1zM32 26h2v1h-2zM32 27h1v1h-1zM33 28h1v1h-1zM32 29h1v1h-1z"/><path fill="#5102a3" d="M31 20h1v1h-1zM30 21h1v1h-1zM27 22h1v1h-1zM28 23h2v1h-2zM31 23h1v1h-1zM28 24h1v1h-1zM33 24h1v1h-1z"/><path fill="#0d0887" d="M31 22h1v1h-1zM32 24h1v1h-1zM28 25h1v1h-1zM35 25h1v1h-1z"/><path fill="#f9dc24" d="M23 22h1v1h-1z"/></g>
<use href="#lines"/>
</svg></div>
<div class="frame" style="left:450.7px;top:24.8px;width:301.5px;height:246.4px"></div>
<div class="t ttl" style="left:451.8px;top:0.7px"><span>(b)</span> Cluster 1</div>
<div class="cb" style="left:761.9px;top:34.0px;width:11.7px;height:227.7px"></div>
<div class="tick" style="left:773.6px;top:260.7px"></div>
<div class="t cbl" style="left:776.5px;top:256.2px">0.0</div>
<div class="tick" style="left:773.6px;top:210.6px"></div>
<div class="t cbl" style="left:776.5px;top:206.1px">0.1</div>
<div class="tick" style="left:773.6px;top:160.5px"></div>
<div class="t cbl" style="left:776.5px;top:156.0px">0.2</div>
<div class="tick" style="left:773.6px;top:110.4px"></div>
<div class="t cbl" style="left:776.5px;top:105.9px">0.3</div>
<div class="tick" style="left:773.6px;top:60.3px"></div>
<div class="t cbl" style="left:776.5px;top:55.8px">0.4</div>
<div class="t lon" style="left:480.6px;top:274.5px">100°E</div>
<div class="t lon" style="left:536.6px;top:274.5px">110°E</div>
<div class="t lon" style="left:592.6px;top:274.5px">120°E</div>
<div class="t lon" style="left:647.6px;top:274.5px">130°E</div>
<div class="t lon" style="left:704.0px;top:274.5px">140°E</div>
<div class="t lat" style="left:387.6px;width:60px;top:71.4px">50°N</div>
<div class="t lat" style="left:387.6px;width:60px;top:127.3px">40°N</div>
<div class="t lat" style="left:387.6px;width:60px;top:183.0px">30°N</div>
<div class="t lat" style="left:387.6px;width:60px;top:238.6px">20°N</div>
<div class="map" style="left:44.0px;top:339.3px;width:307.6px;height:246.9px">
<svg width="307.6" height="246.9" viewBox="0 0 55 45" preserveAspectRatio="none">
<use href="#sea"/><use href="#grid"/>
<g shape-rendering="crispEdges"><path fill="#f0f921" d="M16 0h1v1h-1zM16 1h1v1h-1zM17 2h1v1h-1zM18 3h1v1h-1zM18 4h1v1h-1zM31 4h2v1h-2zM19 5h1v1h-1zM31 5h1v1h-1zM31 6h1v1h-1zM19 7h2v1h-2zM31 7h1v1h-1zM20 8h1v1h-1zM29 8h1v1h-1zM31 8h1v1h-1zM21 9h1v1h-1zM30 9h2v1h-2zM22 10h1v1h-1zM24 10h2v1h-2zM30 10h3v1h-3zM22 11h1v1h-1zM26 11h7v1h-7zM39 11h1v1h-1zM23 12h2v1h-2zM28 12h8v1h-8zM39 12h2v1h-2zM25 13h9v1h-9zM35 13h1v1h-1zM40 13h1v1h-1zM43 13h2v1h-2zM47 13h1v1h-1zM26 14h5v1h-5zM32 14h6v1h-6zM42 14h3v1h-3zM46 14h2v1h-2zM24 15h2v1h-2zM27 15h4v1h-4zM32 15h7v1h-7zM42 15h4v1h-4zM12 16h5v1h-5zM24 16h7v1h-7zM32 16h6v1h-6zM41 16h1v1h-1zM43 16h4v1h-4zM17 17h8v1h-8zM26 17h4v1h-4zM33 17h4v1h-4zM39 17h3v1h-3zM43 17h1v1h-1zM45 17h4v1h-4zM24 18h5v1h-5zM31 18h3v1h-3zM38 18h4v1h-4zM43 18h2v1h-2zM46 18h3v1h-3zM24 19h4v1h-4zM31 19h4v1h-4zM39 19h4v1h-4zM44 19h1v1h-1zM26 20h2v1h-2zM30 20h4v1h-4zM40 20h1v1h-1zM44 20h1v1h-1zM46 20h1v1h-1zM26 21h2v1h-2zM30 21h3v1h-3zM42 21h5v1h-5zM23 22h2v1h-2zM31 22h1v1h-1zM42 22h1v1h-1zM45 22h1v1h-1zM41 23h1v1h-1zM45 23h1v1h-1zM49 23h1v1h-1zM20 24h1v1h-1zM22 24h1v1h-1zM40 24h2v1h-2zM44 24h1v1h-1zM48 24h1v1h-1zM16 25h4v1h-4zM21 25h1v1h-1zM40 25h3v1h-3zM44 25h1v1h-1zM48 25h1v1h-1zM19 26h4v1h-4zM25 26h1v1h-1zM36 26h1v1h-1zM44 26h4v1h-4zM21 27h5v1h-5zM35 27h1v1h-1zM37 27h1v1h-1zM39 27h1v1h-1zM44 27h1v1h-1zM46 27h4v1h-4zM20 28h6v1h-6zM39 28h1v1h-1zM42 28h1v1h-1zM44 28h3v1h-3zM20 29h7v1h-7zM39 29h1v1h-1zM42 29h6v1h-6zM19 30h4v1h-4zM26 30h1v1h-1zM41 30h8v1h-8zM19 31h3v1h-3zM36 31h1v1h-1zM41 31h1v1h-1zM44 31h3v1h-3zM18 32h3v1h-3zM24 32h2v1h-2zM32 32h1v1h-1zM42 32h2v1h-2zM19 33h2v1h-2zM23 33h2v1h-2zM31 33h1v1h-1zM36 33h1v1h-1zM42 33h4v1h-4zM18 34h3v1h-3zM22 34h2v1h-2zM31 34h2v1h-2zM37 34h4v1h-4zM42 34h1v1h-1zM44 34h5v1h-5zM17 35h7v1h-7zM31 35h2v1h-2zM34 35h2v1h-2zM38 35h6v1h-6zM19 36h1v1h-1zM27 36h2v1h-2zM32 36h1v1h-1zM34 36h3v1h-3zM38 36h4v1h-4zM43 36h3v1h-3zM23 37h2v1h-2zM26 37h3v1h-3zM32 37h2v1h-2zM36 37h2v1h-2zM39 37h2v1h-2zM20 38h1v1h-1zM23 38h8v1h-8zM33 38h2v1h-2zM37 38h1v1h-1zM39 38h3v1h-3zM20 39h1v1h-1zM24 39h2v1h-2zM27 39h4v1h-4zM35 39h1v1h-1zM37 39h2v1h-2zM40 39h2v1h-2zM27 40h4v1h-4zM36 40h1v1h-1zM38 40h1v1h-1zM41 40h2v1h-2zM27 41h4v1h-4zM36 41h3v1h-3zM40 41h3v1h-3zM27 42h2v1h-2zM30 42h1v1h-1zM36 42h1v1h-1zM39 42h4v1h-4zM27 43h1v1h-1zM31 43h1v1h-1zM36 43h1v1h-1zM39 43h1v1h-1zM42 43h1v1h-1zM27 44h1v1h-1zM31 44h1v1h-1zM36 44h1v1h-1zM39 44h1v1h-1zM42 44h1v1h-1z"/><path fill="#fdc229" d="M41 13h1v1h-1zM31 16h1v1h-1zM38 16h1v1h-1zM42 16h1v1h-1zM30 17h1v1h-1zM32 17h1v1h-1zM37 17h2v1h-2zM42 17h1v1h-1zM44 17h1v1h-1zM29 18h2v1h-2zM34 18h2v1h-2zM37 18h1v1h-1zM42 18h1v1h-1zM29 19h1v1h-1zM37 19h2v1h-2zM28 20h2v1h-2zM38 20h2v1h-2zM41 20h3v1h-3zM29 21h1v1h-1zM33 21h1v1h-1zM36 21h1v1h-1zM39 21h3v1h-3zM25 22h3v1h-3zM29 22h2v1h-2zM32 22h1v1h-1zM38 22h1v1h-1zM41 22h1v1h-1zM24 23h4v1h-4zM40 23h1v1h-1zM21 24h1v1h-1zM24 24h4v1h-4zM25 25h3v1h-3zM37 25h1v1h-1zM23 26h2v1h-2zM26 26h1v1h-1zM28 26h1v1h-1zM37 26h2v1h-2zM40 26h3v1h-3zM26 27h1v1h-1zM36 27h1v1h-1zM42 27h2v1h-2zM26 28h2v1h-2zM38 28h1v1h-1zM40 28h2v1h-2zM43 28h1v1h-1zM27 29h1v1h-1zM38 29h1v1h-1zM40 29h2v1h-2zM27 30h1v1h-1zM35 30h2v1h-2zM40 30h1v1h-1zM26 31h1v1h-1zM31 31h2v1h-2zM37 31h1v1h-1zM40 31h1v1h-1zM43 31h1v1h-1zM26 32h1v1h-1zM31 32h1v1h-1zM33 32h1v1h-1zM35 32h1v1h-1zM37 32h2v1h-2zM41 32h1v1h-1zM25 33h1v1h-1zM29 33h1v1h-1zM32 33h2v1h-2zM35 33h1v1h-1zM37 33h1v1h-1zM41 33h1v1h-1zM24 34h2v1h-2zM29 34h2v1h-2zM34 34h3v1h-3zM41 34h1v1h-1zM24 35h3v1h-3zM30 35h1v1h-1zM33 35h1v1h-1zM36 35h2v1h-2zM21 36h3v1h-3zM26 36h1v1h-1zM30 36h2v1h-2zM33 36h1v1h-1zM37 36h1v1h-1zM20 37h3v1h-3zM25 37h1v1h-1zM30 37h1v1h-1zM34 37h2v1h-2zM31 38h1v1h-1zM35 38h2v1h-2zM38 38h1v1h-1zM31 39h1v1h-1zM36 39h1v1h-1zM37 40h1v1h-1zM39 41h1v1h-1z"/><path fill="#f89441" d="M31 14h1v1h-1zM39 16h2v1h-2zM31 17h1v1h-1zM36 18h1v1h-1zM35 19h2v1h-2zM43 19h1v1h-1zM45 19h1v1h-1zM34 20h1v1h-1zM37 20h1v1h-1zM28 21h1v1h-1zM37 21h2v1h-2zM28 22h1v1h-1zM33 22h1v1h-1zM37 22h1v1h-1zM39 22h1v1h-1zM28 23h1v1h-1zM39 23h1v1h-1zM28 24h1v1h-1zM38 24h2v1h-2zM42 24h1v1h-1zM39 25h1v1h-1zM43 25h1v1h-1zM27 26h1v1h-1zM35 26h1v1h-1zM39 26h1v1h-1zM43 26h1v1h-1zM27 27h2v1h-2zM40 27h1v1h-1zM45 27h1v1h-1zM28 28h1v1h-1zM35 28h2v1h-2zM31 30h3v1h-3zM37 30h3v1h-3zM30 31h1v1h-1zM34 31h2v1h-2zM38 31h2v1h-2zM30 32h1v1h-1zM39 32h2v1h-2zM26 33h2v1h-2zM30 33h1v1h-1zM34 33h1v1h-1zM39 33h2v1h-2zM26 34h1v1h-1zM33 34h1v1h-1zM27 35h3v1h-3zM24 36h2v1h-2zM29 36h1v1h-1zM29 37h1v1h-1zM31 37h1v1h-1zM38 37h1v1h-1zM32 38h1v1h-1zM39 39h1v1h-1zM39 40h1v1h-1z"/><path fill="#ed7a52" d="M41 14h1v1h-1zM31 15h1v1h-1zM41 15h1v1h-1zM28 19h1v1h-1zM46 19h1v1h-1zM36 20h1v1h-1zM34 21h1v1h-1zM36 22h1v1h-1zM40 22h1v1h-1zM23 23h1v1h-1zM31 23h1v1h-1zM35 23h1v1h-1zM37 23h2v1h-2zM23 24h1v1h-1zM22 25h3v1h-3zM28 25h1v1h-1zM36 25h1v1h-1zM34 27h1v1h-1zM38 27h1v1h-1zM37 28h1v1h-1zM28 29h1v1h-1zM28 30h1v1h-1zM34 30h1v1h-1zM28 31h1v1h-1zM42 31h1v1h-1zM28 32h1v1h-1zM36 32h1v1h-1zM38 33h1v1h-1zM19 38h1v1h-1zM26 39h1v1h-1zM26 40h1v1h-1z"/><path fill="#cd4a76" d="M35 20h1v1h-1zM34 22h2v1h-2zM29 23h1v1h-1zM32 23h2v1h-2zM36 23h1v1h-1zM29 24h1v1h-1zM29 25h2v1h-2zM29 26h2v1h-2zM34 26h1v1h-1zM30 27h1v1h-1zM30 28h1v1h-1zM34 28h1v1h-1zM29 29h3v1h-3zM34 29h2v1h-2zM30 30h1v1h-1zM27 31h1v1h-1zM29 31h1v1h-1zM33 31h1v1h-1zM29 32h1v1h-1zM34 32h1v1h-1zM28 33h1v1h-1zM28 34h1v1h-1z"/><path fill="#b12a90" d="M30 23h1v1h-1zM34 23h1v1h-1zM32 24h2v1h-2zM37 24h1v1h-1zM32 25h4v1h-4zM38 25h1v1h-1zM37 29h1v1h-1zM29 30h1v1h-1zM27 32h1v1h-1z"/><path fill="#8808a6" d="M35 21h1v1h-1zM34 24h3v1h-3zM31 25h1v1h-1zM31 26h1v1h-1zM29 27h1v1h-1zM41 27h1v1h-1zM29 28h1v1h-1zM32 29h1v1h-1zM36 29h1v1h-1z"/><path fill="#5102a3" d="M30 24h2v1h-2zM33 26h1v1h-1zM31 27h1v1h-1zM33 27h1v1h-1zM31 28h3v1h-3zM33 29h1v1h-1z"/><path fill="#0d0887" d="M32 26h1v1h-1zM32 27h1v1h-1z"/><path fill="#f9dc24" d="M27 34h1v1h-1z"/></g>
<use href="#lines"/>
</svg></div>
<div class="frame" style="left:43.5px;top:338.8px;width:308.6px;height:247.9px"></div>
<div class="t ttl" style="left:44.7px;top:311.7px"><span>(c)</span> Cluster 2</div>
<div class="cb" style="left:362.6px;top:348.5px;width:12.2px;height:228.6px"></div>
<div class="tick" style="left:374.8px;top:576.3px"></div>
<div class="t cbl" style="left:377.0px;top:571.7px">0.0</div>
<div class="tick" style="left:374.8px;top:533.7px"></div>
<div class="t cbl" style="left:377.0px;top:529.1px">0.1</div>
<div class="tick" style="left:374.8px;top:491.1px"></div>
<div class="t cbl" style="left:377.0px;top:486.5px">0.2</div>
<div class="tick" style="left:374.8px;top:448.5px"></div>
<div class="t cbl" style="left:377.0px;top:443.9px">0.3</div>
<div class="tick" style="left:374.8px;top:405.9px"></div>
<div class="t cbl" style="left:377.0px;top:401.3px">0.4</div>
<div class="tick" style="left:374.8px;top:363.3px"></div>
<div class="t cbl" style="left:377.0px;top:358.7px">0.5</div>
<div class="t lon" style="left:79.4px;top:589.7px">100°E</div>
<div class="t lon" style="left:135.0px;top:589.7px">110°E</div>
<div class="t lon" style="left:191.0px;top:589.7px">120°E</div>
<div class="t lon" style="left:246.4px;top:589.7px">130°E</div>
<div class="t lon" style="left:302.4px;top:589.7px">140°E</div>
<div class="t lat" style="left:-19.6px;width:60px;top:385.7px">50°N</div>
<div class="t lat" style="left:-19.6px;width:60px;top:441.9px">40°N</div>
<div class="t lat" style="left:-19.6px;width:60px;top:497.6px">30°N</div>
<div class="t lat" style="left:-19.6px;width:60px;top:553.3px">20°N</div>
<div class="map" style="left:450.7px;top:338.3px;width:301.5px;height:246.3px">
<svg width="301.5" height="246.3" viewBox="0 0 55 45" preserveAspectRatio="none">
<use href="#sea"/><use href="#grid"/>
<g shape-rendering="crispEdges"><path fill="#f0f921" d="M25 0h2v1h-2zM1 1h3v1h-3zM23 1h4v1h-4zM3 2h5v1h-5zM12 2h1v1h-1zM22 2h2v1h-2zM26 2h1v1h-1zM1 3h3v1h-3zM5 3h2v1h-2zM8 3h1v1h-1zM12 3h1v1h-1zM14 3h1v1h-1zM21 3h2v1h-2zM27 3h1v1h-1zM4 4h6v1h-6zM11 4h1v1h-1zM13 4h3v1h-3zM22 4h1v1h-1zM27 4h1v1h-1zM6 5h4v1h-4zM12 5h1v1h-1zM14 5h2v1h-2zM19 5h1v1h-1zM21 5h1v1h-1zM26 5h1v1h-1zM7 6h2v1h-2zM10 6h5v1h-5zM16 6h4v1h-4zM21 6h3v1h-3zM26 6h1v1h-1zM9 7h3v1h-3zM13 7h1v1h-1zM15 7h3v1h-3zM19 7h4v1h-4zM24 7h1v1h-1zM26 7h1v1h-1zM1 8h3v1h-3zM9 8h3v1h-3zM14 8h9v1h-9zM24 8h4v1h-4zM3 9h2v1h-2zM11 9h2v1h-2zM15 9h8v1h-8zM24 9h1v1h-1zM26 9h2v1h-2zM5 10h4v1h-4zM13 10h2v1h-2zM17 10h6v1h-6zM24 10h1v1h-1zM26 10h2v1h-2zM30 10h2v1h-2zM5 11h6v1h-6zM12 11h1v1h-1zM16 11h1v1h-1zM18 11h6v1h-6zM25 11h3v1h-3zM29 11h3v1h-3zM33 11h1v1h-1zM3 12h1v1h-1zM5 12h6v1h-6zM12 12h4v1h-4zM17 12h1v1h-1zM19 12h6v1h-6zM26 12h2v1h-2zM29 12h5v1h-5zM0 13h1v1h-1zM2 13h1v1h-1zM5 13h7v1h-7zM13 13h4v1h-4zM19 13h1v1h-1zM21 13h4v1h-4zM26 13h3v1h-3zM30 13h3v1h-3zM37 13h1v1h-1zM41 13h1v1h-1zM6 14h1v1h-1zM10 14h3v1h-3zM14 14h5v1h-5zM22 14h1v1h-1zM24 14h5v1h-5zM30 14h4v1h-4zM37 14h2v1h-2zM41 14h1v1h-1zM6 15h4v1h-4zM11 15h2v1h-2zM16 15h5v1h-5zM23 15h1v1h-1zM26 15h3v1h-3zM31 15h3v1h-3zM37 15h4v1h-4zM3 16h1v1h-1zM7 16h8v1h-8zM18 16h3v1h-3zM28 16h1v1h-1zM30 16h11v1h-11zM42 16h1v1h-1zM4 17h5v1h-5zM10 17h6v1h-6zM17 17h1v1h-1zM20 17h2v1h-2zM30 17h6v1h-6zM37 17h3v1h-3zM43 17h1v1h-1zM9 18h9v1h-9zM20 18h2v1h-2zM31 18h8v1h-8zM43 18h2v1h-2zM12 19h7v1h-7zM22 19h1v1h-1zM32 19h1v1h-1zM34 19h4v1h-4zM39 19h1v1h-1zM43 19h2v1h-2zM13 20h4v1h-4zM18 20h3v1h-3zM32 20h2v1h-2zM35 20h2v1h-2zM38 20h5v1h-5zM16 21h5v1h-5zM35 21h2v1h-2zM38 21h3v1h-3zM18 22h2v1h-2zM38 22h3v1h-3zM37 23h3v1h-3zM18 24h4v1h-4zM37 24h2v1h-2zM22 25h1v1h-1zM37 25h2v1h-2zM22 26h1v1h-1zM25 26h1v1h-1zM36 26h4v1h-4zM18 27h1v1h-1zM22 27h2v1h-2zM25 27h1v1h-1zM39 27h1v1h-1zM18 28h4v1h-4zM23 28h4v1h-4zM39 28h1v1h-1zM18 29h9v1h-9zM30 29h1v1h-1zM36 29h2v1h-2zM20 30h6v1h-6zM27 30h3v1h-3zM31 30h1v1h-1zM33 30h3v1h-3zM37 30h3v1h-3zM27 31h3v1h-3zM31 31h5v1h-5zM40 31h1v1h-1zM27 32h4v1h-4zM32 32h4v1h-4zM28 33h3v1h-3zM28 34h5v1h-5zM29 35h2v1h-2z"/><path fill="#fdc229" d="M22 5h1v1h-1zM23 8h1v1h-1zM10 10h2v1h-2zM15 10h2v1h-2zM23 10h1v1h-1zM11 11h1v1h-1zM13 11h2v1h-2zM17 11h1v1h-1zM24 11h1v1h-1zM28 11h1v1h-1zM11 12h1v1h-1zM18 12h1v1h-1zM25 12h1v1h-1zM28 12h1v1h-1zM17 13h2v1h-2zM20 13h1v1h-1zM25 13h1v1h-1zM23 14h1v1h-1zM13 15h3v1h-3zM21 15h2v1h-2zM24 15h2v1h-2zM29 15h2v1h-2zM15 16h3v1h-3zM21 16h5v1h-5zM27 16h1v1h-1zM16 17h1v1h-1zM18 17h2v1h-2zM22 17h3v1h-3zM18 18h2v1h-2zM22 18h2v1h-2zM30 18h1v1h-1zM19 19h3v1h-3zM31 19h1v1h-1zM21 20h1v1h-1zM34 20h1v1h-1zM37 20h1v1h-1zM21 21h1v1h-1zM33 21h1v1h-1zM36 22h2v1h-2zM20 23h1v1h-1zM23 23h1v1h-1zM36 23h1v1h-1zM22 24h1v1h-1zM21 25h1v1h-1zM23 26h1v1h-1zM35 26h1v1h-1zM17 27h1v1h-1zM24 27h1v1h-1zM26 27h1v1h-1zM27 28h2v1h-2zM27 29h2v1h-2zM31 29h1v1h-1zM30 30h1v1h-1zM30 31h1v1h-1z"/><path fill="#f89441" d="M21 4h1v1h-1zM23 7h1v1h-1zM8 8h1v1h-1zM13 8h1v1h-1zM9 9h2v1h-2zM13 9h2v1h-2zM23 9h1v1h-1zM12 10h1v1h-1zM16 12h1v1h-1zM12 13h1v1h-1zM13 14h1v1h-1zM19 14h3v1h-3zM29 14h1v1h-1zM26 16h1v1h-1zM29 16h1v1h-1zM25 17h2v1h-2zM28 17h2v1h-2zM24 18h2v1h-2zM29 18h1v1h-1zM24 19h2v1h-2zM30 19h1v1h-1zM22 20h3v1h-3zM31 20h1v1h-1zM22 21h1v1h-1zM27 21h1v1h-1zM32 21h1v1h-1zM37 21h1v1h-1zM20 22h2v1h-2zM32 22h2v1h-2zM35 22h1v1h-1zM18 23h2v1h-2zM24 24h2v1h-2zM36 24h1v1h-1zM23 25h1v1h-1zM30 25h1v1h-1zM36 25h1v1h-1zM17 26h1v1h-1zM24 26h1v1h-1zM26 26h4v1h-4zM31 26h1v1h-1zM16 27h1v1h-1zM28 27h1v1h-1zM35 27h1v1h-1zM30 28h2v1h-2zM36 28h3v1h-3zM32 29h2v1h-2zM36 30h1v1h-1z"/><path fill="#ed7a52" d="M27 17h1v1h-1zM28 18h1v1h-1zM23 19h1v1h-1zM26 19h2v1h-2zM33 19h1v1h-1zM25 20h1v1h-1zM28 20h1v1h-1zM23 21h1v1h-1zM25 21h1v1h-1zM22 22h3v1h-3zM27 22h1v1h-1zM30 22h1v1h-1zM23 24h1v1h-1zM26 24h1v1h-1zM20 25h1v1h-1zM24 25h1v1h-1zM26 25h2v1h-2zM21 26h1v1h-1zM29 27h1v1h-1zM36 27h1v1h-1zM32 28h1v1h-1zM34 29h1v1h-1z"/><path fill="#cd4a76" d="M26 18h2v1h-2zM28 19h2v1h-2zM26 20h2v1h-2zM24 21h1v1h-1zM26 21h1v1h-1zM28 21h2v1h-2zM31 21h1v1h-1zM34 21h1v1h-1zM26 22h1v1h-1zM28 22h2v1h-2zM34 22h1v1h-1zM28 23h2v1h-2zM33 23h3v1h-3zM27 24h3v1h-3zM31 24h1v1h-1zM34 24h2v1h-2zM25 25h1v1h-1zM31 25h1v1h-1zM35 25h1v1h-1zM30 26h1v1h-1zM34 26h1v1h-1zM30 27h2v1h-2zM34 27h1v1h-1zM33 28h1v1h-1zM35 29h1v1h-1z"/><path fill="#b12a90" d="M30 21h1v1h-1zM25 22h1v1h-1zM25 23h2v1h-2zM30 23h2v1h-2zM30 24h1v1h-1zM28 25h2v1h-2zM27 27h1v1h-1zM32 27h1v1h-1zM29 28h1v1h-1zM34 28h1v1h-1z"/><path fill="#8808a6" d="M29 20h2v1h-2zM24 23h1v1h-1zM27 23h1v1h-1zM33 24h1v1h-1zM32 25h1v1h-1zM32 26h1v1h-1zM33 27h1v1h-1zM35 28h1v1h-1zM29 29h1v1h-1z"/><path fill="#5102a3" d="M31 22h1v1h-1zM32 23h1v1h-1zM32 24h1v1h-1zM34 25h1v1h-1z"/><path fill="#0d0887" d="M33 25h1v1h-1zM33 26h1v1h-1z"/><path fill="#df6263" d="M20 4h1v1h-1zM1 5h2v1h-2zM3 6h2v1h-2zM6 7h2v1h-2zM28 10h1v1h-1zM15 11h1v1h-1zM29 13h1v1h-1zM14 23h4v1h-4zM19 25h1v1h-1zM18 26h1v1h-1zM15 27h1v1h-1zM36 31h1v1h-1zM31 32h1v1h-1zM31 33h3v1h-3z"/><path fill="#f9dc24" d="M21 23h2v1h-2z"/></g>
<use href="#lines"/>
</svg></div>
<div class="frame" style="left:450.2px;top:337.8px;width:302.5px;height:247.3px"></div>
<div class="t ttl" style="left:451.8px;top:311.7px"><span>(d)</span> Cluster 3</div>
<div class="cb" style="left:762.9px;top:347.3px;width:12.2px;height:228.2px"></div>
<div class="tick" style="left:775.1px;top:574.9px"></div>
<div class="t cbl" style="left:777.3px;top:569.7px">0.0</div>
<div class="tick" style="left:775.1px;top:532.3px"></div>
<div class="t cbl" style="left:777.3px;top:527.1px">0.1</div>
<div class="tick" style="left:775.1px;top:489.7px"></div>
<div class="t cbl" style="left:777.3px;top:484.5px">0.2</div>
<div class="tick" style="left:775.1px;top:447.1px"></div>
<div class="t cbl" style="left:777.3px;top:441.9px">0.3</div>
<div class="tick" style="left:775.1px;top:404.5px"></div>
<div class="t cbl" style="left:777.3px;top:399.3px">0.4</div>
<div class="tick" style="left:775.1px;top:361.9px"></div>
<div class="t cbl" style="left:777.3px;top:356.7px">0.5</div>
<div class="t lon" style="left:485.0px;top:588.5px">100°E</div>
<div class="t lon" style="left:540.2px;top:588.5px">110°E</div>
<div class="t lon" style="left:596.2px;top:588.5px">120°E</div>
<div class="t lon" style="left:651.6px;top:588.5px">130°E</div>
<div class="t lon" style="left:707.6px;top:588.5px">140°E</div>
<div class="t lat" style="left:387.6px;width:60px;top:385.7px">50°N</div>
<div class="t lat" style="left:387.6px;width:60px;top:441.7px">40°N</div>
<div class="t lat" style="left:387.6px;width:60px;top:497.3px">30°N</div>
<div class="t lat" style="left:387.6px;width:60px;top:553.3px">20°N</div>
</body></html>
